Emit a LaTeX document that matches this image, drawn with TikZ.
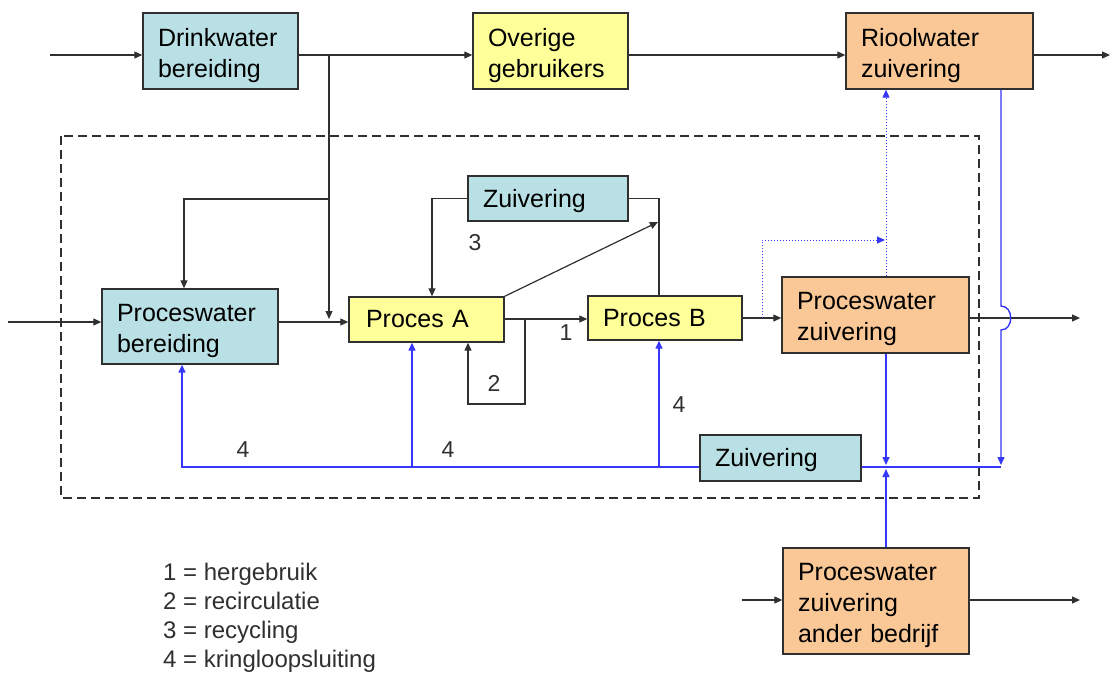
\documentclass[tikz,border=0pt]{standalone}
\usepackage{fontspec}
\setmainfont{Liberation Sans}
\usetikzlibrary{arrows.meta,calc}
\definecolor{aqua}{HTML}{B9E0E4}
\definecolor{yel}{HTML}{FFFF99}
\definecolor{peach}{HTML}{FAC896}
\definecolor{bl}{RGB}{55,55,250}
\definecolor{ln}{HTML}{303030}
\begin{document}
\begin{tikzpicture}[x=1pt,y=-1pt,
  bx/.style={draw=ln, line width=1.4pt, inner xsep=0pt, inner ysep=0pt, align=left,
             font=\fontsize{25}{31}\selectfont},
  one/.style={text depth=0.5pt},
  two/.style={text depth=28pt},
  three/.style={text depth=59pt},
  flow/.style={draw=ln, line width=1.2pt},
  arr/.style={flow, -{Triangle[length=8pt,width=7pt]}},
  bline/.style={draw=bl, line width=1.4pt},
  barr/.style={bline, -{Triangle[length=8pt,width=7pt]}},
  dotl/.style={draw=bl, line width=1pt, dotted, -{Triangle[length=8pt,width=7pt]}},
  lab/.style={font=\fontsize{23}{28}\selectfont, text=ln, inner sep=0pt},
  frame/.style={draw=ln, line width=1.3pt, dash pattern=on 9pt off 5pt}]
\useasboundingbox (0,0) rectangle (1112,675);
\fill[white] (0,0) rectangle (1112,675);

% system boundary
\draw[frame] (61,136) rectangle (979,498);

% boxes
\node[bx, two, fill=aqua, minimum width=155pt, minimum height=76pt, text width=125pt] (drink) at (220.5,51) {Drinkwater\\bereiding};
\node[bx, two, fill=yel, minimum width=155pt, minimum height=76pt, text width=125pt] (overige) at (550.5,51) {Overige\\gebruikers};
\node[bx, two, fill=peach, minimum width=187pt, minimum height=76pt, text width=157pt] (riool) at (939.5,51) {Rioolwater\\zuivering};
\node[bx, two, fill=aqua, minimum width=176pt, minimum height=75pt, text width=146pt] (pwb) at (190,326.5) {Proceswater\\bereiding};
\node[bx, fill=yel, minimum width=155pt, minimum height=45pt, text width=121pt] (procA) at (426.5,319.5) {Proces A};
\node[bx, fill=yel, minimum width=154pt, minimum height=44pt, text width=124pt] (procB) at (665,318) {Proces B};
\node[bx, one, fill=aqua, minimum width=160pt, minimum height=45pt, text width=130pt] (zuivT) at (548,198.5) {Zuivering};
\node[bx, two, fill=peach, minimum width=187pt, minimum height=76pt, text width=157pt] (pwz) at (875.5,315) {Proceswater\\zuivering};
\node[bx, one, fill=aqua, minimum width=161pt, minimum height=46pt, text width=131pt] (zuivB) at (780.5,458) {Zuivering};
\node[bx, three, fill=peach, minimum width=186pt, minimum height=106pt, text width=156pt] (ander) at (876,601) {Proceswater\\zuivering\\ander bedrijf};

% top row
\coordinate (inD) at (50,55);
\coordinate (outR) at (1110,55);
\draw[arr] (inD) -- (inD -| drink.west);
\draw[arr] (drink.east |- inD) -- (overige.west |- inD);
\draw[arr] (overige.east |- inD) -- (riool.west |- inD);
\draw[arr] (riool.east |- outR) -- (outR);

% drinkwater supply into the plant
\coordinate (j1) at (329,55);
\coordinate (j2) at (329,199);
\coordinate (j3) at (329,319);
\coordinate (k1) at (184,199);
\draw[arr] (j1) -- (j3);
\draw[arr] (j2) -- (k1) -- (k1 |- pwb.north);

% process line
\coordinate (inP) at (8,322);
\draw[arr] (inP) -- (inP -| pwb.west);
\draw[arr] (pwb.east |- inP) -- (procA.west |- inP);
\coordinate (yAB) at (0,319);
\draw[arr] (procA.east |- yAB) -- (procB.west |- yAB);

% 2 = recirculatie
\coordinate (l2a) at (525,319);
\coordinate (l2b) at (525,404);
\coordinate (l2c) at (468,404);
\draw[arr] (l2a) -- (l2b) -- (l2c) -- (l2c |- procA.south);

% 3 = recycling
\coordinate (l3) at (432,198.5);
\draw[arr] (zuivT.west) -- (l3) -- (l3 |- procA.north);
\coordinate (r3) at (659,198.5);
\draw[flow] (procB.north -| r3) -- (r3) -- (zuivT.east);
\coordinate (dtip) at (658,222);
\draw[arr] (procA.north east) -- (dtip);

% to proceswater zuivering
\coordinate (yB) at (0,318);
\draw[arr] (procB.east |- yB) -- (pwz.west |- yB);
\coordinate (d1) at (762,318);
\coordinate (d2) at (762,240);
\coordinate (d3) at (885,240);
\draw[dotl] (d1) -- (d2) -- (d3);
\coordinate (px) at (886,0);
\draw[dotl] (pwz.north -| px) -- (riool.south -| px);
\coordinate (outZ) at (1080,318);
\draw[arr] (pwz.east |- outZ) -- (outZ);

% 4 = kringloopsluiting
\coordinate (bx) at (1001,0);
\coordinate (bR) at (1001,467);
\coordinate (hb) at (0,467);
\draw[barr] (riool.south -| bx) -- (1001,306)
  .. controls (1014,306) and (1014,330) .. (1001,330) -- (1001,465);
\draw[bline] (bR) -- (zuivB.east |- hb);
\coordinate (bL) at (182,467);
\draw[barr] (zuivB.west |- hb) -- (bL) -- (bL |- pwb.south);
\coordinate (bA) at (412,467);
\draw[barr] (bA) -- (bA |- procA.south);
\coordinate (bB) at (659,467);
\draw[barr] (bB) -- (bB |- procB.south);
\draw[barr] (pwz.south -| px) -- (886,465);
\draw[barr] (ander.north -| px) -- (886,469);

% ander bedrijf
\coordinate (inA) at (742,600);
\coordinate (outA) at (1080,600);
\draw[arr] (inA) -- (inA -| ander.west);
\draw[arr] (ander.east |- outA) -- (outA);

% labels
\node[lab] (n1) at (566,333) {1};
\node[lab] (n2) at (494,383) {2};
\node[lab] (n3) at (475,243) {3};
\node[lab] (n4a) at (243,450) {4};
\node[lab] (n4b) at (448,450) {4};
\node[lab] (n4c) at (679,405) {4};

% legend
\node[anchor=north west, align=left, inner sep=0pt, text=ln,
      font=\fontsize{24}{29}\selectfont] (legend) at (163,563)
  {1 = hergebruik\\2 = recirculatie\\3 = recycling\\4 = kringloopsluiting};
\end{tikzpicture}
\end{document}
